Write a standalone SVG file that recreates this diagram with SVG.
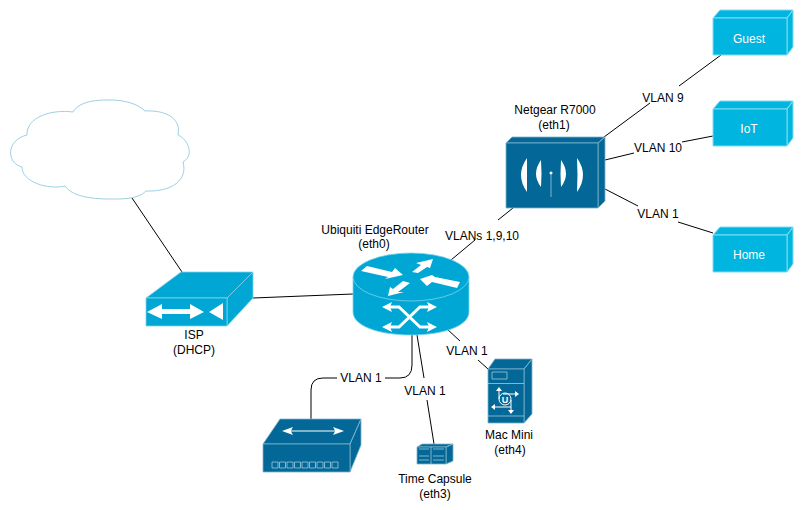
<svg xmlns="http://www.w3.org/2000/svg" width="803" height="510" viewBox="0 0 803 510">
<style>
text{font-family:"Liberation Sans",Arial,sans-serif;font-size:12px;fill:#000;text-anchor:middle}
.w{fill:#fff;font-size:12px}
.c{fill:none;stroke:#000;stroke-width:1}
.lt{fill:#00b5e0;stroke:#7fdcf2;stroke-width:1;stroke-linejoin:round}
.cy{fill:#00a7d5;stroke:#7fd3ea;stroke-width:.8;stroke-linejoin:round}
.dk{fill:#036897;stroke:#7fb4cb;stroke-width:.8;stroke-linejoin:round}
.wf{fill:#fff;stroke:none}
.wl{fill:none;stroke:#fff;stroke-width:1}
.dl{fill:none;stroke:#9fcbdd;stroke-width:.8}
</style>
<defs>
<g id="box">
<path class="lt" d="M0 0L7-8H80L74 0ZM74 0L80-8V29L74 37Z"/>
<rect class="lt" width="74" height="37"/>
</g>
</defs>
<g id="connectors">
<path class="c" d="M132 198L182 272"/>
<path class="c" d="M253 298L353 294"/>
<path class="c" d="M451 260L475 240M498 220L513 208"/>
<path class="c" d="M604 137L650 103M679 86L721 55"/>
<path class="c" d="M605 160L634 153M682 142L713 136"/>
<path class="c" d="M605 189L638 206M678 222L713 233"/>
<path class="c" d="M447 329L460 341M478 360L488 369"/>
<path class="c" d="M311 419V390Q311 378 323 378H337M385 378H400Q412 378 412 365V335"/>
<path class="c" d="M417 335L424 378M427 400L434 444"/>
</g>
<g id="cloud">
<path d="M27 135C26 118 50 109 73 112C80 100 100 100 110 100C125 100 138 104 145 111C160 110 182 115 178 135C186 138 196 154 183 162C188 180 172 192 146 191C138 200 118 199 110 199C90 199 72 196 65 186C48 190 22 182 22 167C6 163 6 140 27 135Z" fill="none" stroke="#9fcfe3" stroke-width="1"/>
</g>
<g id="isp">
<path class="cy" d="M146 298L181 272H253L227 298ZM227 298L253 272V298L227 326Z"/>
<rect class="cy" x="146" y="298" width="81" height="28"/>
<path class="wf" d="M147 312L162 304V309H190V304L204 312L190 319V314H162V319ZM209 312L223 303V320Z"/>
<text x="194" y="339">ISP</text>
<text x="194" y="354">(DHCP)</text>
</g>
<g id="router">
<path class="cy" d="M353 277V312C353 326 379 335 411 335C443 335 469 326 469 312V277Z"/>
<ellipse class="cy" cx="411" cy="277" rx="58" ry="24"/>
<path class="wf" d="M361 271L367 266L392 272L395 268L403 275L385 279L388 277ZM433 259L416 263L421 265L412 272L418 273L427 267L430 268ZM420 279L432 275L435 277L460 282L457 288L432 282L427 286ZM388 296L390 287L393 289L403 281L410 283L398 292L404 292Z"/>
<path class="wl" style="stroke-width:3" d="M390 307H399L420 327H430M390 327H399L420 307H430"/>
<path class="wf" d="M382 307L392 302L390 307L392 312ZM437 307L427 302L429 307L427 312ZM382 327L392 322L390 327L392 332ZM437 327L427 322L429 327L427 332Z"/>
<text x="375" y="234">Ubiquiti EdgeRouter</text>
<text x="374" y="248">(eth0)</text>
</g>
<g id="netgear">
<path class="dk" d="M506 143L512 137H605L598 143ZM598 143L605 137V201L598 208Z"/>
<rect class="dk" x="506" y="143" width="92" height="65"/>
<path class="wf" d="M527 158Q515 175 527 192Q527 175 527 158ZM541 160Q531 174 541 187Q542 174 541 160ZM561 160Q571 174 561 187Q560 174 561 160ZM577 158Q589 175 577 192Q578 175 577 158Z" stroke="#fff" stroke-width="1.500"/>
<circle class="wf" cx="551" cy="173" r="1.500"/>
<path d="M551 174V197" stroke="#7fb4cb" stroke-width="1"/>
<text x="555" y="114">Netgear R7000</text>
<text x="554" y="129">(eth1)</text>
</g>
<g id="switch">
<path class="dk" d="M263 444L280 419H361L350 444ZM350 444L361 419V445L350 472Z"/>
<rect class="dk" x="263" y="444" width="87" height="28"/>
<path class="wf" d="M282 431L293 427L291 430.500H335L333 427L344 431L333 435L335 431.500H291L293 435Z"/>
<path class="dl" d="M272 462h6v6h-6zM279.500 462h6v6h-6zM287 462h6v6h-6zM294.500 462h6v6h-6zM302 462h6v6h-6zM309.500 462h6v6h-6zM317 462h6v6h-6zM324.500 462h6v6h-6zM332 462h6v6h-6z"/>
</g>
<g id="time-capsule">
<path class="dk" d="M417 447L422 444H453L446 447ZM446 447L453 444V461L446 464Z"/>
<rect class="dk" x="417" y="447" width="29" height="17"/>
<path class="dl" d="M431 447V464M419 449H429M433 449H444M419 456H429M433 456H444M419 460H429M433 460H444"/>
<text x="435" y="483">Time Capsule</text>
<text x="435" y="498">(eth3)</text>
</g>
<g id="mac-mini">
<path class="dk" d="M488 369L495 359H532L524 369ZM524 369L532 359V414L524 423Z"/>
<rect class="dk" x="488" y="369" width="36" height="54"/>
<path class="dl" d="M492 372H507V379H492ZM488 383.500H524M488 416H524"/>
<circle class="wl" cx="505" cy="399" r="6"/>
<path class="wl" d="M499 390V399M503 394H516M494 407H511V400M511 407V411"/>
<path class="wf" d="M499 387L496 391H502ZM519 394L515 391V397ZM491 407L495 404V410ZM511 414L508 410H514Z"/>
<text x="505" y="402.500" style="fill:#fff;font-size:9px;font-weight:bold">U</text>
<text x="509" y="439">Mac Mini</text>
<text x="510" y="454">(eth4)</text>
</g>
<g id="guest"><use href="#box" x="713" y="18"/><text class="w" x="749" y="43">Guest</text></g>
<g id="iot"><use href="#box" x="713" y="109"/><text class="w" x="749" y="133">IoT</text></g>
<g id="home"><use href="#box" x="713" y="235"/><text class="w" x="749" y="259">Home</text></g>
<g id="edge-labels">
<text x="482" y="240">VLANs 1,9,10</text>
<text x="663" y="102">VLAN 9</text>
<text x="658" y="152">VLAN 10</text>
<text x="658" y="218">VLAN 1</text>
<text x="467" y="355">VLAN 1</text>
<text x="361" y="382">VLAN 1</text>
<text x="425" y="395">VLAN 1</text>
</g>
</svg>
